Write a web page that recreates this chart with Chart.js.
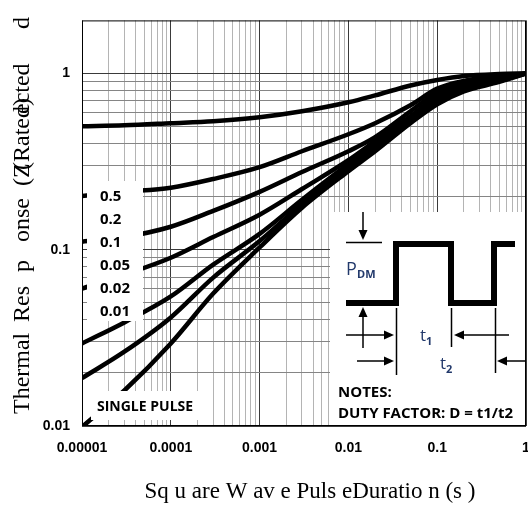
<!DOCTYPE html>
<html>
<head>
<meta charset="utf-8">
<script src="https://cdn.jsdelivr.net/npm/chart.js@4.4.0/dist/chart.umd.min.js"></script>
<style>
  html, body { margin: 0; padding: 0; background: #fff; }
</style>
</head>
<body>
<canvas id="zthChart" width="528" height="511"></canvas>
<script>
// pulse duration (s) and normalized thermal response
var pulseDuration = [0.00001, 0.00003, 0.0001, 0.0003, 0.001, 0.003, 0.01, 0.02, 0.05, 0.1, 0.2, 0.5, 1];
var dutyLabels = ['0.5', '0.2', '0.1', '0.05', '0.02', '0.01', 'SINGLE PULSE'];
var zD05    = [0.502, 0.508, 0.522, 0.536, 0.564, 0.610, 0.686, 0.751, 0.855, 0.919, 0.968, 0.993, 1];
var zD02    = [0.202, 0.213, 0.225, 0.252, 0.294, 0.362, 0.452, 0.522, 0.660, 0.820, 0.908, 0.969, 1];
var zD01    = [0.111, 0.118, 0.135, 0.166, 0.213, 0.276, 0.362, 0.435, 0.610, 0.781, 0.878, 0.955, 1];
var zD005   = [0.0602, 0.0722, 0.0901, 0.118, 0.158, 0.221, 0.322, 0.413, 0.572, 0.741, 0.845, 0.937, 1];
var zD002   = [0.0294, 0.0387, 0.0543, 0.0823, 0.123, 0.192, 0.306, 0.392, 0.557, 0.713, 0.823, 0.919, 1];
var zD001   = [0.0187, 0.0264, 0.0413, 0.0695, 0.112, 0.182, 0.294, 0.377, 0.539, 0.690, 0.807, 0.907, 1];
var zSingle = [0.00987, 0.0159, 0.0294, 0.0564, 0.103, 0.173, 0.279, 0.362, 0.522, 0.668, 0.791, 0.895, 1];

var xDecades = [0.00001, 0.0001, 0.001, 0.01, 0.1, 1];
var xTickLabels = ['0.00001', '0.0001', '0.001', '0.01', '0.1', '1'];
var yDecades = [0.01, 0.1, 1];
var yTickLabels = ['0.01', '0.1', '1'];

var xTitle = 'Sq u are W av e Puls eDuratio n (s )';
// y title pieces and where they sit along the text line (the original is garbled at its end)
var yTitleParts = ['Thermal', 'Res', 'p', 'onse', '(Z', '(Rated)', 'ected', 'd'];
var yTitleOffsets = [0, 92, 142, 172, 228, 244, 300, 385];

function gridValues(decades) {
  var out = [];
  for (var i = 0; i < decades.length - 1; i++) {
    for (var k = 1; k < 10; k++) out.push(decades[i] * k);
  }
  out.push(decades[decades.length - 1]);
  return out;
}
function isDecade(v) {
  var l = Math.log10(v);
  return Math.abs(l - Math.round(l)) < 1e-9;
}
function pts(arr) {
  return pulseDuration.map(function (t, i) { return { x: t, y: arr[i] }; });
}

function arrow(ctx, x1, y1, x2, y2) {
  var ang = Math.atan2(y2 - y1, x2 - x1), hl = 10, hw = 4.5;
  ctx.beginPath();
  ctx.moveTo(x1, y1);
  ctx.lineTo(x2 - Math.cos(ang) * hl, y2 - Math.sin(ang) * hl);
  ctx.stroke();
  ctx.beginPath();
  ctx.moveTo(x2, y2);
  ctx.lineTo(x2 - Math.cos(ang) * hl - Math.sin(ang) * hw, y2 - Math.sin(ang) * hl + Math.cos(ang) * hw);
  ctx.lineTo(x2 - Math.cos(ang) * hl + Math.sin(ang) * hw, y2 - Math.sin(ang) * hl - Math.cos(ang) * hw);
  ctx.closePath();
  ctx.fill();
}

var notesPlugin = {
  id: 'notes',
  afterDatasetsDraw: function (chart) {
    var ctx = chart.ctx, a = chart.chartArea;
    ctx.save();
    // white label boxes over the grid
    ctx.fillStyle = '#fff';
    ctx.fillRect(a.left + 5, 181, 56, 140);
    ctx.fillRect(a.left + 9, 391, 107, 29);
    ctx.fillRect(330, 212, a.right - 330, a.bottom - 212);

    // plot frame
    ctx.strokeStyle = '#000';
    ctx.lineWidth = 1;
    ctx.strokeRect(a.left + 0.5, a.top + 0.5, a.right - a.left - 1, a.bottom - a.top - 1);

    // duty labels
    ctx.fillStyle = '#000';
    ctx.font = 'bold 15px "Open Sans"';
    ctx.textAlign = 'left';
    ctx.textBaseline = 'middle';
    for (var i = 0; i < 6; i++) {
      ctx.fillText(dutyLabels[i], a.left + 18, 197 + i * 23);
    }
    ctx.font = 'bold 14px "Open Sans"';
    ctx.fillText(dutyLabels[6], a.left + 15, 407);

    // pulse diagram
    ctx.lineWidth = 6;
    ctx.lineJoin = 'miter';
    ctx.beginPath();
    ctx.moveTo(346, 303); ctx.lineTo(396, 303); ctx.lineTo(396, 244);
    ctx.lineTo(451, 244); ctx.lineTo(451, 303); ctx.lineTo(494, 303);
    ctx.lineTo(494, 244); ctx.lineTo(515, 244);
    ctx.stroke();

    ctx.lineWidth = 1.5;
    arrow(ctx, 363, 212, 363, 240);
    ctx.beginPath(); ctx.moveTo(346, 242.5); ctx.lineTo(382, 242.5); ctx.stroke();
    arrow(ctx, 363, 348, 363, 307);
    arrow(ctx, 346, 335, 394, 335);
    arrow(ctx, 509, 335, 454, 335);
    arrow(ctx, 357, 361, 394, 361);
    arrow(ctx, 525, 361, 497, 361);
    ctx.beginPath();
    ctx.moveTo(396.5, 308); ctx.lineTo(396.5, 375);
    ctx.moveTo(451.5, 308); ctx.lineTo(451.5, 347);
    ctx.moveTo(495.5, 308); ctx.lineTo(495.5, 373);
    ctx.stroke();

    ctx.fillStyle = '#22396b';
    ctx.textBaseline = 'alphabetic';
    ctx.font = '18px "Open Sans"';
    ctx.fillText('P', 346, 275);
    ctx.font = 'bold 11px "Open Sans"';
    ctx.fillText('DM', 357, 278);
    ctx.font = '17px "Open Sans"';
    ctx.fillText('t', 420, 341);
    ctx.fillText('t', 440, 369);
    ctx.font = 'bold 11px "Open Sans"';
    ctx.fillText('1', 426, 345);
    ctx.fillText('2', 446, 373);

    ctx.fillStyle = '#000';
    ctx.font = 'bold 15px "Open Sans"';
    ctx.fillText('NOTES:', 338, 397);
    ctx.fillText('DUTY FACTOR: D = t1/t2', 338, 418);

    // axis titles
    ctx.font = '23px "Liberation Serif"';
    ctx.textAlign = 'center';
    ctx.textBaseline = 'middle';
    ctx.fillText(xTitle, 310, 492);
    ctx.font = '24px "Liberation Serif"';
    ctx.translate(23, 414);
    ctx.rotate(-Math.PI / 2);
    ctx.textAlign = 'left';
    for (var j = 0; j < yTitleParts.length; j++) {
      ctx.fillText(yTitleParts[j], yTitleOffsets[j], 0);
    }
    ctx.restore();
  }
};

window.onload = function () {
  var zth = document.getElementById('zthChart').getContext('2d');
  var series = [zD05, zD02, zD01, zD005, zD002, zD001, zSingle];
  var zthChart = new Chart(zth, {
    type: 'line',
    data: {
      datasets: series.map(function (s, i) {
        return {
          label: dutyLabels[i],
          data: pts(s),
          borderColor: '#000',
          backgroundColor: '#000',
          borderWidth: 4.5,
          pointRadius: 0,
          fill: false,
          cubicInterpolationMode: 'monotone'
        };
      })
    },
    options: {
      responsive: false,
      devicePixelRatio: 1,
      animation: false,
      layout: { padding: { top: 18, right: 2, left: 0, bottom: 0 } },
      plugins: { legend: { display: false }, tooltip: { enabled: false } },
      scales: {
        x: {
          type: 'logarithmic',
          min: 0.00001,
          max: 1,
          afterBuildTicks: function (s) {
            s.ticks = gridValues(xDecades).map(function (v) { return { value: v }; });
          },
          afterFit: function (s) { s.height = 85; s.paddingLeft = 0; s.paddingRight = 0; },
          border: { display: false },
          grid: {
            drawTicks: false,
            lineWidth: 1,
            color: function (c) { return c.tick && isDecade(c.tick.value) ? '#3a3a3a' : '#b4b4b4'; }
          },
          ticks: {
            autoSkip: false,
            maxRotation: 0,
            padding: 14,
            color: '#000',
            font: { family: 'Liberation Sans', weight: 'bold', size: 14 },
            callback: function (v) {
              var i = xDecades.indexOf(v);
              return i < 0 ? '' : xTickLabels[i];
            }
          }
        },
        y: {
          type: 'logarithmic',
          min: 0.01,
          max: 2,
          afterBuildTicks: function (s) {
            s.ticks = gridValues(yDecades).map(function (v) { return { value: v }; });
          },
          afterFit: function (s) { s.width = 82; },
          border: { display: false },
          grid: {
            drawTicks: false,
            lineWidth: 1,
            color: function (c) { return c.tick && isDecade(c.tick.value) ? '#3a3a3a' : '#858585'; }
          },
          ticks: {
            autoSkip: false,
            padding: 12,
            color: '#000',
            font: { family: 'Liberation Sans', weight: 'bold', size: 14 },
            callback: function (v) {
              var i = yDecades.indexOf(v);
              return i < 0 ? '' : yTickLabels[i];
            }
          }
        }
      }
    },
    plugins: [notesPlugin]
  });
};
</script>
</body>
</html>
